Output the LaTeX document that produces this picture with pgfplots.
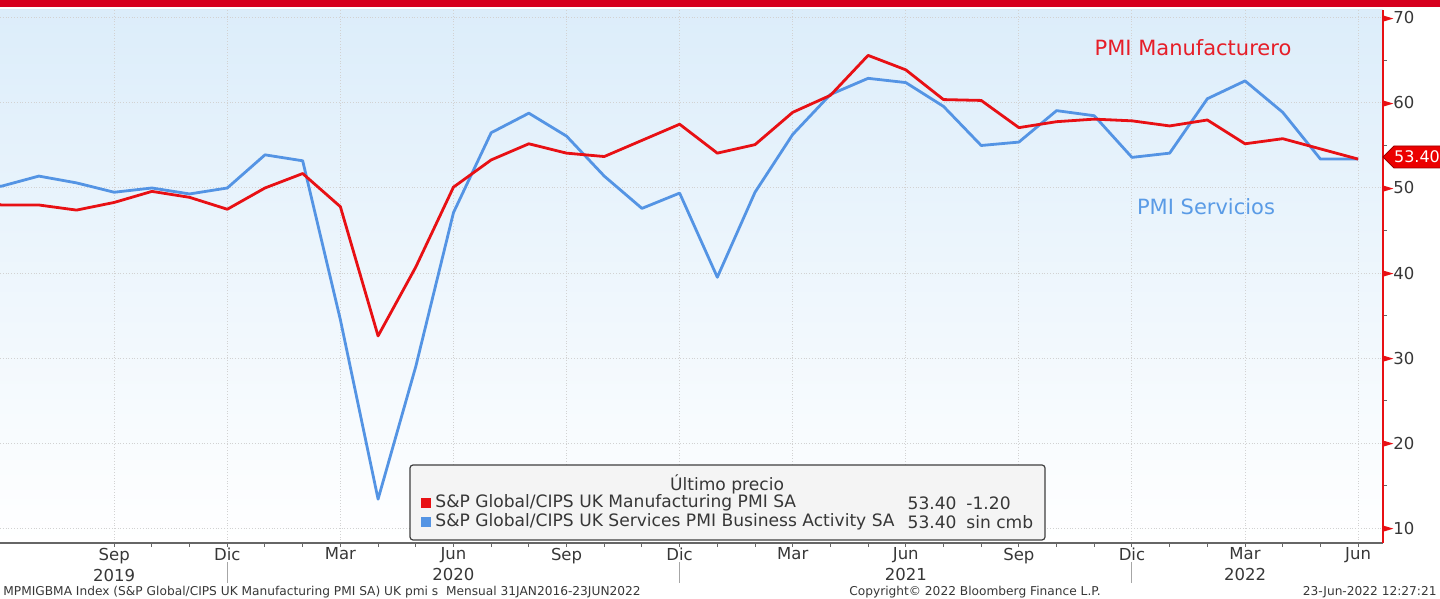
\documentclass[border=0pt]{standalone}
\usepackage{pgfplots}
\pgfplotsset{compat=1.18}
\usepackage{pgfplotstable}
\usepackage{fontspec}
\setmainfont{DejaVu Sans}
\definecolor{bbred}{RGB}{214,0,30}
\definecolor{pmired}{RGB}{232,16,20}
\definecolor{pmiblue}{RGB}{84,148,228}
\definecolor{annred}{RGB}{230,30,40}
\definecolor{annblue}{RGB}{90,155,230}
\definecolor{bgtop}{RGB}{220,237,250}
\definecolor{tickgray}{RGB}{55,55,55}

\pgfplotstableread{
m v
-1 49.4
0 48.0
1 48.0
2 47.4
3 48.3
4 49.6
5 48.9
6 47.5
7 50.0
8 51.7
9 47.8
10 32.6
11 40.7
12 50.1
13 53.3
14 55.2
15 54.1
16 53.7
17 55.6
18 57.5
19 54.1
20 55.1
21 58.9
22 60.9
23 65.6
24 63.9
25 60.4
26 60.3
27 57.1
28 57.8
29 58.1
30 57.9
31 57.3
32 58.0
33 55.2
34 55.8
35 54.6
36 53.4
}\manuf

\pgfplotstableread{
m v
-1 51.0
0 50.2
1 51.4
2 50.6
3 49.5
4 50.0
5 49.3
6 50.0
7 53.9
8 53.2
9 34.5
10 13.4
11 29.0
12 47.1
13 56.5
14 58.8
15 56.1
16 51.4
17 47.6
18 49.4
19 39.5
20 49.5
21 56.3
22 61.0
23 62.9
24 62.4
25 59.6
26 55.0
27 55.4
28 59.1
29 58.5
30 53.6
31 54.1
32 60.5
33 62.6
34 58.9
35 53.4
36 53.4
}\serv

\begin{document}
\begin{tikzpicture}
\useasboundingbox (0,0) rectangle (720pt,299.5pt);
\fill[bbred] (0,296pt) rectangle (720pt,299.5pt);
\begin{axis}[
  at={(0pt,28pt)}, anchor=south west,
  scale only axis, width=691.5pt, height=266.5pt,
  xmin=-0.03, xmax=36.66, ymin=8.24, ymax=70.94,
  axis x line*=bottom, axis y line*=right,
  x axis line style={draw=gray!80!black, line width=0.6pt},
  y axis line style={draw=pmired, line width=0.8pt},
  axis background/.style={top color=bgtop, bottom color=white},
  xtick={3,6,...,36},
  xticklabels={Sep\\2019, Dic, Mar, Jun\\2020, Sep, Dic, Mar, Jun\\2021, Sep, Dic, Mar\\2022, Jun},
  minor x tick num=2,
  ytick={10,20,...,70},
  minor y tick num=1,
  tick align=outside,
  major tick length=2pt, minor tick length=2pt,
  every tick/.style={gray!80!black, line width=0.5pt},
  every major y tick/.append style={draw=none},
  grid=major,
  major grid style={densely dotted, gray!35, line width=0.5pt},
  xticklabel style={align=center, font=\fontsize{8.25}{10.5}\selectfont, text=tickgray, inner sep=1pt, yshift=0.8pt},
  yticklabel style={anchor=west, font=\fontsize{8.25}{10}\selectfont, text=tickgray, inner sep=0pt, xshift=-2pt},
  yticklabel={\tikz[baseline=-0.6ex]\fill[pmired] (0,-1.5pt)--(5pt,0)--(0,1.5pt)--cycle;\pgfmathprintnumber{\tick}},
  /pgf/number format/assume math mode=true,
  clip mode=individual,
]
\addplot[pmiblue, line width=1.4pt, line join=round] table[x=m,y=v] {\serv};
\addplot[pmired, line width=1.4pt, line join=round] table[x=m,y=v] {\manuf};
\draw[gray!70, line width=0.5pt] ([yshift=-9.5pt]axis cs:6,8.24) -- ([yshift=-20pt]axis cs:6,8.24);
\draw[gray!70, line width=0.5pt] ([yshift=-9.5pt]axis cs:18,8.24) -- ([yshift=-20pt]axis cs:18,8.24);
\draw[gray!70, line width=0.5pt] ([yshift=-9.5pt]axis cs:30,8.24) -- ([yshift=-20pt]axis cs:30,8.24);
\end{axis}
% annotations
\node[text=annred, font=\fontsize{10.5}{12}\selectfont] at (596.5pt,275.5pt) {PMI Manufacturero};
\node[text=annblue, font=\fontsize{10.5}{12}\selectfont] at (603pt,196pt) {PMI Servicios};
% last value tag
\filldraw[fill=red!92!black, draw=red!60!black, line width=0.4pt] (691.5pt,221pt) -- (697pt,226.5pt) -- (721pt,226.5pt) -- (721pt,215.5pt) -- (697pt,215.5pt) -- cycle;
\node[text=white, font=\fontsize{8}{9}\selectfont, inner sep=0pt] at (708.5pt,221pt) {53.40};
% legend
\draw[rounded corners=1.5pt, fill=gray!9, draw=gray!50!black, line width=0.6pt] (205pt,29.5pt) rectangle (522.5pt,67pt);
\begin{scope}[every node/.style={font=\fontsize{8.55}{9}\selectfont, text=tickgray, inner sep=0pt}]
\node at (363.5pt,57.5pt) {Último precio};
\fill[pmired] (210.5pt,45.5pt) rectangle (215.5pt,50.5pt);
\node[anchor=west] at (217.5pt,48pt) {S\&P Global/CIPS UK Manufacturing PMI SA};
\node[anchor=east] at (478.5pt,48pt) {53.40};
\node[anchor=west] at (483pt,48pt) {-1.20};
\fill[pmiblue] (210.5pt,36pt) rectangle (215.5pt,41pt);
\node[anchor=west] at (217.5pt,38.5pt) {S\&P Global/CIPS UK Services PMI Business Activity SA};
\node[anchor=east] at (478.5pt,38.5pt) {53.40};
\node[anchor=west] at (483pt,38.5pt) {sin cmb};
\end{scope}
% footer
\begin{scope}[every node/.style={font=\fontsize{6.1}{7}\selectfont, text=tickgray, inner sep=0pt}]
\node[anchor=west] at (1.5pt,3.5pt) {MPMIGBMA Index (S\&P Global/CIPS UK Manufacturing PMI SA) UK pmi s\ \ Mensual 31JAN2016-23JUN2022};
\node at (487.5pt,3.5pt) {Copyright© 2022 Bloomberg Finance L.P.};
\node[anchor=east] at (718.5pt,3.5pt) {23-Jun-2022 12:27:21};
\end{scope}
\end{tikzpicture}
\end{document}
